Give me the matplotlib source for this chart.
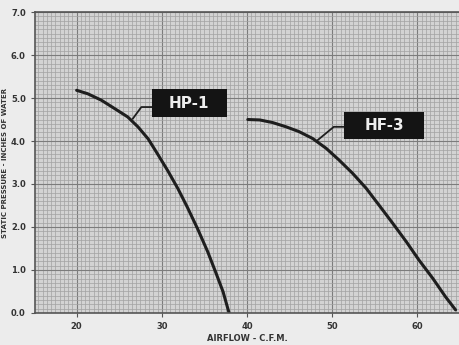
import matplotlib.pyplot as plt
from matplotlib.patches import Rectangle
from matplotlib.ticker import MultipleLocator

# fan curves (airflow cfm, static pressure in. water)
hp1_cfm = [20.0, 21.3, 22.9, 24.5, 26.0, 27.2, 28.4, 29.5, 30.7, 31.9, 33.0,
           34.2, 35.4, 36.4, 37.2, 37.9]
hp1_sp = [5.18, 5.10, 4.95, 4.75, 4.56, 4.33, 4.05, 3.70, 3.31, 2.89, 2.46,
          1.96, 1.42, 0.91, 0.49, 0.0]
hf3_cfm = [40.1, 41.5, 43.0, 44.6, 46.1, 47.7, 49.3, 50.8, 52.4, 54.0, 55.5,
           57.1, 58.7, 60.2, 61.8, 63.3, 64.5]
hf3_sp = [4.50, 4.49, 4.43, 4.33, 4.22, 4.06, 3.83, 3.56, 3.25, 2.90, 2.51,
          2.09, 1.66, 1.23, 0.81, 0.38, 0.07]

x_ticks = [20, 30, 40, 50, 60]
y_ticks = [0, 1, 2, 3, 4, 5, 6, 7]
y_tick_labels = ["0.0", "1.0", "2.0", "3.0", "4.0", "5.0", "6.0", "7.0"]

fig = plt.figure(figsize=(4.59, 3.45), dpi=100, facecolor="#ececec")
ax = fig.add_axes([0.076, 0.093, 0.924, 0.872])
ax.set_facecolor("#d3d3d3")

ax.set_xlim(15.1, 64.9)
ax.set_ylim(0, 7)
ax.set_xticks(x_ticks)
ax.set_yticks(y_ticks)
ax.set_yticklabels(y_tick_labels)
ax.xaxis.set_minor_locator(MultipleLocator(0.5))
ax.yaxis.set_minor_locator(MultipleLocator(0.1))

# graph paper grid
ax.grid(which="minor", color="#a2a2a2", linewidth=0.5)
ax.grid(which="major", color="#7c7c7c", linewidth=0.8)
ax.set_axisbelow(True)

for s in ["left", "bottom", "top"]:
    ax.spines[s].set_color("#555555")
    ax.spines[s].set_linewidth(1.2)
ax.spines["right"].set_visible(False)

ax.tick_params(which="major", length=3, width=0.8, color="#555555",
               labelsize=6, labelcolor="#333333")
ax.tick_params(which="minor", length=0)
for lab in ax.get_xticklabels() + ax.get_yticklabels():
    lab.set_fontweight("bold")

# curves
ax.plot(hp1_cfm, hp1_sp, color="#1e1e1e", linewidth=2.2, solid_capstyle="round")
ax.plot(hf3_cfm, hf3_sp, color="#1e1e1e", linewidth=2.2, solid_capstyle="round")

# leader lines
ax.plot([28.8, 27.6, 26.6], [4.79, 4.79, 4.52], color="#1e1e1e", linewidth=1.3)
ax.plot([51.4, 50.2, 48.3], [4.33, 4.33, 4.02], color="#1e1e1e", linewidth=1.3)

# labels in black boxes
ax.add_patch(Rectangle((28.8, 4.56), 8.8, 0.64, facecolor="#141414",
                       edgecolor="none", zorder=3))
ax.add_patch(Rectangle((51.4, 4.05), 9.4, 0.62, facecolor="#141414",
                       edgecolor="none", zorder=3))
ax.text(33.2, 4.87, "HP-1", color="#eeeeee", fontsize=11, fontweight="bold",
        ha="center", va="center", zorder=4)
ax.text(56.1, 4.35, "HF-3", color="#eeeeee", fontsize=11, fontweight="bold",
        ha="center", va="center", zorder=4)

ax.set_xlabel("AIRFLOW - C.F.M.", fontsize=6, fontweight="bold", color="#333333",
              labelpad=2)
ax.set_ylabel("STATIC PRESSURE - INCHES OF WATER", fontsize=5, fontweight="bold",
              color="#333333", labelpad=2)

fig.savefig("out.png", dpi=100, facecolor=fig.get_facecolor())
